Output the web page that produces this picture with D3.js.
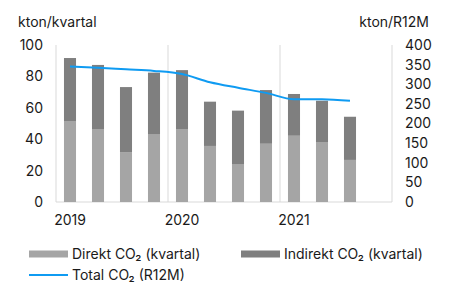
<!DOCTYPE html>
<html>
<head>
<meta charset="utf-8">
<script src="https://cdn.jsdelivr.net/npm/d3@7"></script>
<style>
  body { margin: 0; background: #fff; }
  svg text { font-family: Inter, "Liberation Sans", Arial, sans-serif; fill: #1a1a1a; }
</style>
</head>
<body>
<div id="chart"></div>
<script>
// quarters 2019Q1 .. 2021Q3
const quarters = ['2019Q1', '2019Q2', '2019Q3', '2019Q4', '2020Q1', '2020Q2', '2020Q3', '2020Q4', '2021Q1', '2021Q2', '2021Q3'];
const allQuarters = quarters.concat(['2021Q4']);
const direkt = [51.6, 46.5, 31.8, 43.3, 46.5, 35.7, 24.2, 37.1, 42.2, 38.2, 26.8];
const indirekt = [40.1, 40.8, 41.4, 39.1, 37.5, 28.2, 34.0, 34.2, 26.6, 26.3, 27.5];
const totalR12M = [345, 342, 338, 334, 326, 305, 291, 278, 262, 262, 258];
const yearLabels = ['2019', '2020', '2021'];
const leftTicks = [0, 20, 40, 60, 80, 100];
const rightTicks = [0, 50, 100, 150, 200, 250, 300, 350, 400];

const width = 450, height = 282;
const margin = { top: 45, right: 58, bottom: 80, left: 56 };

const colDirekt = '#a5a5a5',
    colIndirekt = '#7f7f7f',
    colLine = '#0f9bf2',
    colGrid = '#d9d9d9';

const svg = d3.select('#chart').append('svg')
    .attr('width', width)
    .attr('height', height);

const x = d3.scaleBand()
    .domain(allQuarters)
    .range([margin.left, width - margin.right])
    .paddingInner(0.57)
    .paddingOuter(0.285);

const step = x.step();
const yL = d3.scaleLinear().domain([0, 100]).range([height - margin.bottom, margin.top]);
const yR = d3.scaleLinear().domain([0, 400]).range([height - margin.bottom, margin.top]);

// vertical year gridlines
const gridX = [0, 4, 8, 12].map(i => margin.left + i * step);
svg.append('g').selectAll('line')
    .data(gridX).enter()
    .append('line')
    .attr('x1', d => d).attr('x2', d => d)
    .attr('y1', margin.top).attr('y2', yL(0))
    .attr('stroke', colGrid).attr('stroke-width', 1);

// bottom axis line
svg.append('line')
    .attr('x1', margin.left).attr('x2', width - margin.right)
    .attr('y1', yL(0)).attr('y2', yL(0))
    .attr('stroke', colGrid);

// stacked bars
const stackData = quarters.map((q, i) => ({ q: q, direkt: direkt[i], indirekt: indirekt[i] }));
const series = d3.stack().keys(['direkt', 'indirekt'])(stackData);
const colors = { direkt: colDirekt, indirekt: colIndirekt };

svg.append('g').selectAll('g')
    .data(series).enter()
    .append('g')
    .attr('fill', d => colors[d.key])
    .selectAll('rect')
    .data(d => d).enter()
    .append('rect')
    .attr('x', d => x(d.data.q))
    .attr('width', x.bandwidth())
    .attr('y', d => yL(d[1]))
    .attr('height', d => yL(d[0]) - yL(d[1]));

// R12M line
const line = d3.line()
    .x((d, i) => x(quarters[i]) + x.bandwidth() / 2)
    .y(d => yR(d))
    .curve(d3.curveMonotoneX);

svg.append('path')
    .datum(totalR12M)
    .attr('d', line)
    .attr('fill', 'none')
    .attr('stroke', colLine)
    .attr('stroke-width', 2);

// left axis
const leftAxis = svg.append('g')
    .attr('transform', 'translate(' + (margin.left - 13) + ',0)')
    .call(d3.axisLeft(yL).tickValues(leftTicks).tickSize(0).tickPadding(0));
leftAxis.select('.domain').remove();
leftAxis.selectAll('text').style('font-size', '14px').attr('fill', '#1a1a1a');

// right axis
const rightAxis = svg.append('g')
    .attr('transform', 'translate(' + (width - margin.right + 13) + ',0)')
    .call(d3.axisRight(yR).tickValues(rightTicks).tickSize(0).tickPadding(0));
rightAxis.select('.domain').remove();
rightAxis.selectAll('text').style('font-size', '14px').attr('fill', '#1a1a1a');

// year labels, centred on first quarter of each year
svg.append('g').selectAll('text')
    .data(yearLabels).enter()
    .append('text')
    .attr('x', d => x(d + 'Q1') + x.bandwidth() / 2)
    .attr('y', 225)
    .attr('text-anchor', 'middle')
    .style('font-size', '14px')
    .text(d => d);

// axis titles
svg.append('text').attr('x', 18).attr('y', 27).style('font-size', '14px').text('kton/kvartal');
svg.append('text').attr('x', 429).attr('y', 27).attr('text-anchor', 'end').style('font-size', '14px').text('kton/R12M');

// legend
const legend = svg.append('g');
const legendItems = [
    { label: 'Direkt CO₂ (kvartal)', color: colDirekt, type: 'rect', x: 29, y: 254 },
    { label: 'Indirekt CO₂ (kvartal)', color: colIndirekt, type: 'rect', x: 241, y: 254 },
    { label: 'Total CO₂ (R12M)', color: colLine, type: 'line', x: 29, y: 275 }
];
legendItems.forEach(d => {
    if (d.type == 'rect') {
        legend.append('rect').attr('x', d.x).attr('y', d.y - 3.5).attr('width', 39).attr('height', 7).attr('fill', d.color);
    } else {
        legend.append('line').attr('x1', d.x).attr('x2', d.x + 39).attr('y1', d.y).attr('y2', d.y)
            .attr('stroke', d.color).attr('stroke-width', 2);
    }
    legend.append('text').attr('x', d.x + 43).attr('y', d.y + 5).style('font-size', '14px').text(d.label);
});
</script>
</body>
</html>
